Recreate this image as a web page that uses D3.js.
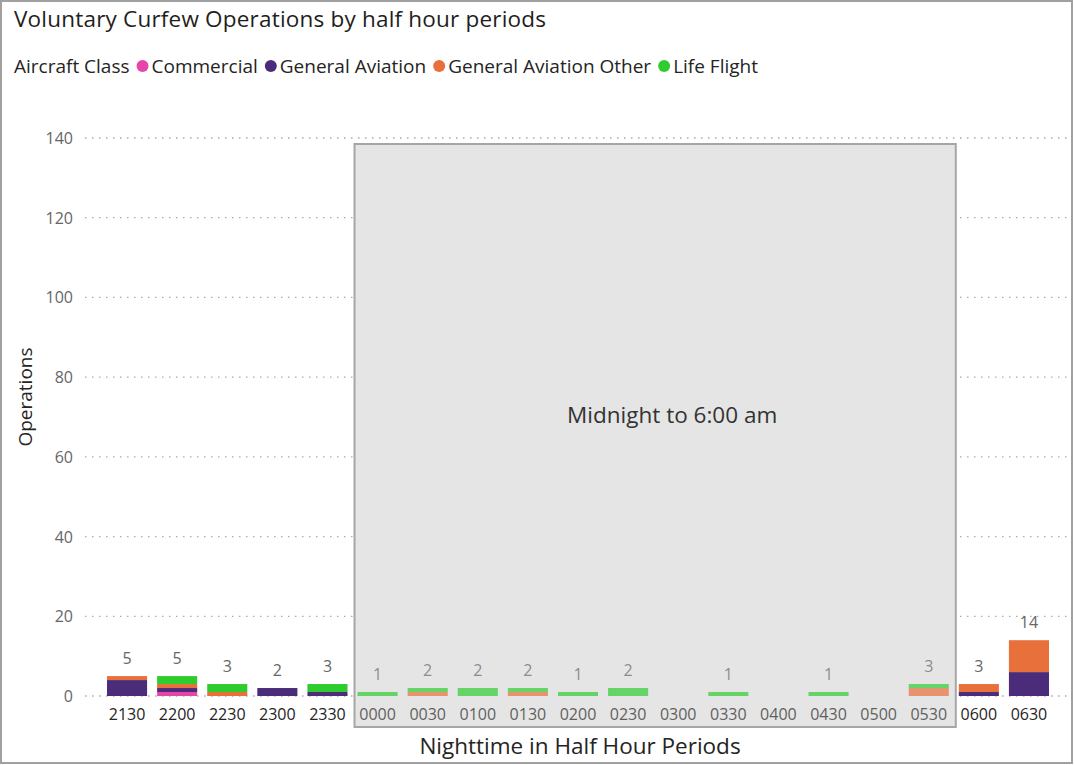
<!DOCTYPE html>
<html>
<head>
<meta charset="utf-8">
<script src="https://cdn.jsdelivr.net/npm/d3@7"></script>
<style>
  body { margin: 0; background: #fff; }
  svg { display: block; font-family: "Open Sans", "Noto Sans", sans-serif; }
</style>
</head>
<body>
<div id="chart"></div>
<script>
// half hour periods along the x axis
var periods = ["2130", "2200", "2230", "2300", "2330", "0000", "0030", "0100", "0130", "0200",
  "0230", "0300", "0330", "0400", "0430", "0500", "0530", "0600", "0630"];

// operations per aircraft class, one value per period
var commercial      = [0, 1, 0, 0, 0, 0, 0, 0, 0, 0, 0, 0, 0, 0, 0, 0, 0, 0, 0];
var generalAviation = [4, 1, 0, 2, 1, 0, 0, 0, 0, 0, 0, 0, 0, 0, 0, 0, 0, 1, 6];
var gaOther         = [1, 1, 1, 0, 0, 0, 1, 0, 1, 0, 0, 0, 0, 0, 0, 0, 2, 2, 8];
var lifeFlight      = [0, 2, 2, 0, 2, 1, 1, 2, 1, 1, 2, 0, 1, 0, 1, 0, 1, 0, 0];

var classNames = ["Commercial", "General Aviation", "General Aviation Other", "Life Flight"];
var classColors = ["#E645AB", "#4B2C7A", "#E8703A", "#2ECC2E"];
var yTicks = [0, 20, 40, 60, 80, 100, 120, 140];

// shaded curfew window
var curfewStart = "0000", curfewEnd = "0600";
var curfewLabel = "Midnight to 6:00 am";

var W = 1074, H = 765;

var svg = d3.select("#chart").append("svg")
  .attr("width", W)
  .attr("height", H);

// frame
svg.append("rect")
  .attr("x", 1).attr("y", 1)
  .attr("width", W - 3).attr("height", H - 3)
  .attr("fill", "#fff")
  .attr("stroke", "#a0a0a0")
  .attr("stroke-width", 2);

svg.append("text")
  .attr("x", 14).attr("y", 27)
  .attr("font-size", 22.5)
  .attr("fill", "#1f1e1d")
  .attr("textLength", 532)
  .text("Voluntary Curfew Operations by half hour periods");

// legend
var legSize = 19;
var leg = svg.append("g").attr("transform", "translate(14,73)");
var lt = leg.append("text")
  .attr("x", 0).attr("y", 0)
  .attr("font-size", legSize)
  .attr("fill", "#252423")
  .text("Aircraft Class");
var lx = lt.node().getComputedTextLength();
classNames.forEach(function(name, i) {
  leg.append("circle")
    .attr("cx", lx + 13).attr("cy", -7).attr("r", 6)
    .attr("fill", classColors[i]);
  var t = leg.append("text")
    .attr("x", lx + 22).attr("y", 0)
    .attr("font-size", legSize)
    .attr("fill", "#252423")
    .text(name);
  lx += 22 + t.node().getComputedTextLength();
});

var x = d3.scaleBand()
  .domain(periods)
  .range([102, 1054])
  .paddingInner(0.2)
  .paddingOuter(0.1);

var y = d3.scaleLinear()
  .domain([0, 140])
  .range([696, 138]);

// gridlines
svg.append("g")
  .selectAll("line")
  .data(yTicks)
  .join("line")
  .attr("x1", 85).attr("x2", 1068)
  .attr("y1", function(d) { return y(d); })
  .attr("y2", function(d) { return y(d); })
  .attr("stroke", "#ababab")
  .attr("stroke-width", 1.3)
  .attr("stroke-dasharray", "1.5,5.5");

svg.append("g")
  .selectAll("text")
  .data(yTicks)
  .join("text")
  .attr("x", 73)
  .attr("y", function(d) { return y(d) + 6; })
  .attr("text-anchor", "end")
  .attr("font-size", 16)
  .attr("fill", "#666")
  .text(function(d) { return d; });

// curfew box, behind the bars
var step = x.step();
var boxX0 = x(curfewStart) + x.bandwidth() / 2 - step / 2 + 2;
var boxX1 = x(curfewEnd) + x.bandwidth() / 2 - step / 2 + 2;
var boxY0 = 144, boxY1 = 727;
svg.append("rect")
  .attr("x", boxX0).attr("y", boxY0)
  .attr("width", boxX1 - boxX0).attr("height", boxY1 - boxY0)
  .attr("fill", "#e6e6e6");

// stacked bars
var rows = periods.map(function(p, i) {
  return { period: p, c0: commercial[i], c1: generalAviation[i], c2: gaOther[i], c3: lifeFlight[i] };
});
var stack = d3.stack().keys(["c0", "c1", "c2", "c3"]);
var series = stack(rows);

svg.append("g")
  .selectAll("g")
  .data(series)
  .join("g")
  .attr("fill", function(d, i) { return classColors[i]; })
  .selectAll("rect")
  .data(function(d) { return d; })
  .join("rect")
  .attr("x", function(d) { return x(d.data.period); })
  .attr("width", x.bandwidth())
  .attr("y", function(d) { return y(d[1]); })
  .attr("height", function(d) { return y(d[0]) - y(d[1]); });

// totals
svg.append("g")
  .selectAll("text")
  .data(rows.filter(function(r) { return r.c0 + r.c1 + r.c2 + r.c3 > 0; }))
  .join("text")
  .attr("x", function(d) { return x(d.period) + x.bandwidth() / 2; })
  .attr("y", function(d) { return y(d.c0 + d.c1 + d.c2 + d.c3) - 12; })
  .attr("text-anchor", "middle")
  .attr("font-size", 16)
  .attr("fill", "#666")
  .text(function(d) { return d.c0 + d.c1 + d.c2 + d.c3; });

// x tick labels
svg.append("g")
  .selectAll("text")
  .data(periods)
  .join("text")
  .attr("x", function(d) { return x(d) + x.bandwidth() / 2; })
  .attr("y", 720)
  .attr("text-anchor", "middle")
  .attr("font-size", 16)
  .attr("fill", "#252423")
  .text(function(d) { return d; });

// wash over the box contents plus its border
svg.append("rect")
  .attr("x", boxX0).attr("y", boxY0)
  .attr("width", boxX1 - boxX0).attr("height", boxY1 - boxY0)
  .attr("fill", "#e6e6e6")
  .attr("fill-opacity", 0.3)
  .attr("stroke", "#a6a6a6")
  .attr("stroke-width", 2);

svg.append("text")
  .attr("x", (boxX0 + boxX1) / 2 + 17)
  .attr("y", 423)
  .attr("text-anchor", "middle")
  .attr("font-size", 22.5)
  .attr("fill", "#333")
  .text(curfewLabel);

// axis titles
svg.append("text")
  .attr("transform", "translate(32,397) rotate(-90)")
  .attr("text-anchor", "middle")
  .attr("font-size", 19)
  .attr("fill", "#252423")
  .text("Operations");

svg.append("text")
  .attr("x", 580).attr("y", 754)
  .attr("text-anchor", "middle")
  .attr("font-size", 22.5)
  .attr("fill", "#252423")
  .text("Nighttime in Half Hour Periods");
</script>
</body>
</html>
